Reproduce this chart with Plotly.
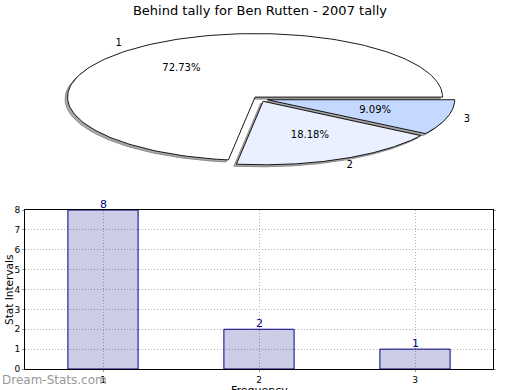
import numpy as np
import plotly.graph_objects as go

# ---- data ----
categories = ["1", "2", "3"]
values = [8, 2, 1]
pie_colors = ["#FFFFFF", "#EAF0FF", "#C5D8FF"]
y_ticks = [0, 1, 2, 3, 4, 5, 6, 7, 8]
x_positions = [1, 2, 3]

W, H = 520, 390
# pie geometry (pixels)
CX, CY, RX, RY = 260.0, 99.0, 187.5, 63.5
EXPLODE = 0.04
SH_DX, SH_DY = -2.5, 2.0  # shadow offset in pixels

fig = go.Figure()

total = float(sum(values))
fracs = [v / total for v in values]
starts = np.concatenate([[0.0], np.cumsum(fracs)[:-1]]) * 2 * np.pi
ends = np.cumsum(fracs) * 2 * np.pi

x2_range = [-CX / RX, (W - CX) / RX]
y_top_px, y_bot_px = 0.0, 195.0
y2_range = [-(y_bot_px - CY) / RY, (CY - y_top_px) / RY]
shx, shy = SH_DX / RX, -SH_DY / RY

slices = []
for a0, a1 in zip(starts, ends):
    mid = (a0 + a1) / 2
    ox, oy = EXPLODE * np.cos(mid), EXPLODE * np.sin(mid)
    t = np.linspace(a0, a1, 160)
    xs = np.concatenate([[ox], ox + np.cos(t), [ox]])
    ys = np.concatenate([[oy], oy + np.sin(t), [oy]])
    slices.append((xs, ys, mid, ox, oy))

# shadows
for xs, ys, mid, ox, oy in slices:
    fig.add_trace(go.Scatter(x=xs + shx, y=ys + shy, fill="toself", mode="lines",
                             fillcolor="#a8a8a8", line=dict(color="#8c8c8c", width=1),
                             xaxis="x2", yaxis="y2", hoverinfo="skip", showlegend=False))
# slices
for (xs, ys, mid, ox, oy), col in zip(slices, pie_colors):
    fig.add_trace(go.Scatter(x=xs, y=ys, fill="toself", mode="lines",
                             fillcolor=col, line=dict(color="black", width=0.9),
                             xaxis="x2", yaxis="y2", hoverinfo="skip", showlegend=False))

# pie labels
pct_x, pct_y, pct_t, lab_x, lab_y = [], [], [], [], []
for (xs, ys, mid, ox, oy), v in zip(slices, values):
    pct_x.append(ox + 0.6 * np.cos(mid)); pct_y.append(oy + 0.6 * np.sin(mid))
    pct_t.append("%.2f%%" % (100.0 * v / total))
    lab_x.append(1.15 * np.cos(mid)); lab_y.append(1.15 * np.sin(mid))
fig.add_trace(go.Scatter(x=pct_x, y=pct_y, text=pct_t, mode="text",
                         textfont=dict(family="DejaVu Sans", size=10, color="black"),
                         xaxis="x2", yaxis="y2", hoverinfo="skip", showlegend=False))
fig.add_trace(go.Scatter(x=lab_x, y=lab_y, text=categories, mode="text",
                         textfont=dict(family="DejaVu Sans", size=10, color="black"),
                         xaxis="x2", yaxis="y2", hoverinfo="skip", showlegend=False))

# bar chart
fig.add_trace(go.Bar(x=x_positions, y=values, width=0.45,
                     marker=dict(color="rgba(0,0,128,0.2)", line=dict(color="#000080", width=1)),
                     hoverinfo="skip", showlegend=False))

annotations = [
    dict(text=str(v), x=xp, y=v, xref="x", yref="y", yanchor="bottom", yshift=-3,
         showarrow=False, font=dict(size=11, color="#000080"))
    for xp, v in zip(x_positions, values)
]
annotations += [
    dict(text="Stat Intervals", x=9 / W, y=(H - 290) / H, xref="paper", yref="paper",
         xanchor="center", yanchor="middle",
         textangle=-90, showarrow=False, font=dict(size=10.5, color="black")),
    dict(text="Frequency", x=259 / W, y=(H - 382) / H, xref="paper", yref="paper",
         xanchor="center", yanchor="top", showarrow=False, font=dict(size=11, color="black")),
    dict(text="Dream-Stats.com", x=0, y=(H - 380) / H, xref="paper", yref="paper",
         xanchor="left", yanchor="middle", showarrow=False,
         font=dict(size=12, color="#999999")),
]

fig.update_layout(
    width=W, height=H, autosize=False,
    margin=dict(l=0, r=0, t=0, b=0, pad=0, autoexpand=False),
    paper_bgcolor="white", plot_bgcolor="white",
    font=dict(family="DejaVu Sans", color="black"),
    title=dict(text="Behind tally for Ben Rutten - 2007 tally", x=0.5, xanchor="center",
               y=1 - 10 / H, yanchor="middle", font=dict(size=13, family="DejaVu Sans")),
    xaxis=dict(domain=[25 / W, 493 / W], range=[0.5, 3.5], tickvals=x_positions,
               ticktext=categories, showgrid=True, gridcolor="#b0b0b0", griddash="1px,2px",
               showline=True, linecolor="black", linewidth=1, mirror=True,
               ticks="outside", ticklen=2, tickcolor="#999999", automargin=False,
               tickfont=dict(size=9), zeroline=False, anchor="y"),
    yaxis=dict(domain=[(H - 369) / H, (H - 210) / H], range=[0, 8], tickvals=y_ticks,
               showgrid=True, gridcolor="#b0b0b0", griddash="1px,2px",
               showline=True, linecolor="black", linewidth=1, mirror="ticks",
               ticks="outside", ticklen=2, tickcolor="#999999", automargin=False,
               tickfont=dict(size=9), zeroline=False, anchor="x"),
    xaxis2=dict(domain=[0, 1], range=x2_range, visible=False, anchor="y2", automargin=False),
    yaxis2=dict(domain=[(H - y_bot_px) / H, (H - y_top_px) / H], range=y2_range,
                visible=False, anchor="x2", automargin=False),
    annotations=annotations,
)

fig.write_html("out.html", config={"displayModeBar": False, "responsive": False},
               post_script="document.body.style.margin='0';")
